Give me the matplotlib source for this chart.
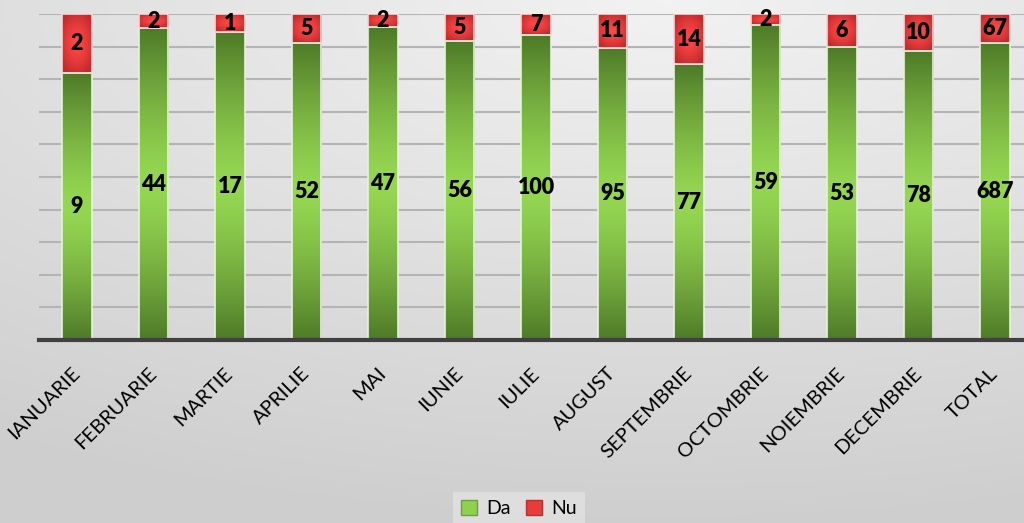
import matplotlib
matplotlib.use("Agg")
import matplotlib.pyplot as plt
import numpy as np
from matplotlib.colors import to_rgb
from matplotlib.patches import Patch

# data
categories = ['IANUARIE', 'FEBRUARIE', 'MARTIE', 'APRILIE', 'MAI', 'IUNIE', 'IULIE',
              'AUGUST', 'SEPTEMBRIE', 'OCTOMBRIE', 'NOIEMBRIE', 'DECEMBRIE', 'TOTAL']
da = [9, 44, 17, 52, 47, 56, 100, 95, 77, 59, 53, 78, 687]
nu = [2, 2, 1, 5, 2, 5, 7, 11, 14, 2, 6, 10, 67]

plt.rcParams['font.family'] = ['Lato', 'DejaVu Sans']

da_arr = np.array(da, dtype=float)
nu_arr = np.array(nu, dtype=float)
tot = da_arr + nu_arr
da_frac = da_arr / tot
nu_frac = nu_arr / tot
x = np.arange(len(categories))

fig = plt.figure(figsize=(10.24, 5.23), dpi=100)

# grey gradient background
bg = fig.add_axes([0, 0, 1, 1], zorder=-10)
yy, xx = np.mgrid[0:1:200j, 0:1:300j]
dist = np.sqrt(((xx - 0.65) * 1.0) ** 2 + ((yy - 0.0) * 1.2) ** 2)
shade = 0.95 - 0.14 * np.clip(dist, 0, 1.2) / 1.2
bg.imshow(np.dstack([shade] * 3), extent=(0, 1, 1, 0), aspect='auto')
bg.axis('off')

ax = fig.add_axes([38.75 / 1024, 183 / 523, 994.5 / 1024, 326 / 523])
ax.set_facecolor('none')
ax.set_xlim(-0.5, len(categories) - 0.5)
ax.set_ylim(0, 1)


def grad_fill(patch, dark, light, radial=False):
    b = patch.get_bbox()
    v = np.linspace(-1, 1, 80)[:, None]
    u = np.linspace(-1, 1, 20)[None, :]
    if radial:
        d = np.clip(np.sqrt(v ** 2 * 0.8 + u ** 2 * 0.6), 0, 1)
    else:
        d = np.abs(v) * np.ones_like(u)
    d = d ** 1.4
    dk = np.array(to_rgb(dark))
    lt = np.array(to_rgb(light))
    img = lt[None, None, :] * (1 - d[..., None]) + dk[None, None, :] * d[..., None]
    im = ax.imshow(img, extent=(b.x0, b.x1, b.y0, b.y1), aspect='auto',
                   origin='lower', zorder=2, interpolation='bilinear')
    im.set_clip_path(patch)


width = 0.39
bars_da = ax.bar(x, da_frac, width, facecolor='none', edgecolor='#e6f2dc', linewidth=1.2, zorder=3)
bars_nu = ax.bar(x, nu_frac, width, bottom=da_frac, facecolor='none', edgecolor='#f2d6d6',
                 linewidth=1.2, zorder=3)
for p in bars_da:
    grad_fill(p, '#4f7b28', '#95d752')
for p in bars_nu:
    grad_fill(p, '#c42a2a', '#ff4848', radial=True)

ax.set_xlim(-0.5, len(categories) - 0.5)
ax.set_ylim(0, 1)

for xi, df, nf, dv, nv in zip(x, da_frac, nu_frac, da, nu):
    ax.text(xi, df / 2, str(dv), ha='center', va='center', fontsize=15.5,
            fontweight='heavy', color='black', zorder=5)
    ax.text(xi, df + nf / 2, str(nv), ha='center', va='center', fontsize=15.5,
            fontweight='heavy', color='black', zorder=5)

ax.set_yticks(np.linspace(0, 1, 11))
ax.set_yticklabels([])
ax.tick_params(axis='y', length=0)
ax.grid(axis='y', color='#b4b4b4', linewidth=1.5)
ax.set_axisbelow(True)

ax.set_xticks(x)
ax.set_xticklabels(categories, rotation=45, ha='right', va='center',
                   rotation_mode='anchor', fontsize=14.5, color='black')
ax.tick_params(axis='x', length=0, pad=22)

for s in ['top', 'right', 'left']:
    ax.spines[s].set_visible(False)
ax.spines['bottom'].set_color('#404040')
ax.spines['bottom'].set_linewidth(3)
ax.spines['bottom'].set_zorder(4)

handles = [Patch(facecolor='#8fd14f', edgecolor='#6f9f3f', label='Da'),
           Patch(facecolor='#e83c3c', edgecolor='#b83030', label='Nu')]
leg = fig.legend(handles=handles, loc='lower center', bbox_to_anchor=(0.507, -0.022), ncol=2,
                 fontsize=14, frameon=True, fancybox=False, handlelength=0.8,
                 handleheight=0.8, handletextpad=0.5, columnspacing=0.8)
leg.get_frame().set_facecolor('#e2e2e2')
leg.get_frame().set_edgecolor('none')

fig.savefig('out.png', dpi=100)
